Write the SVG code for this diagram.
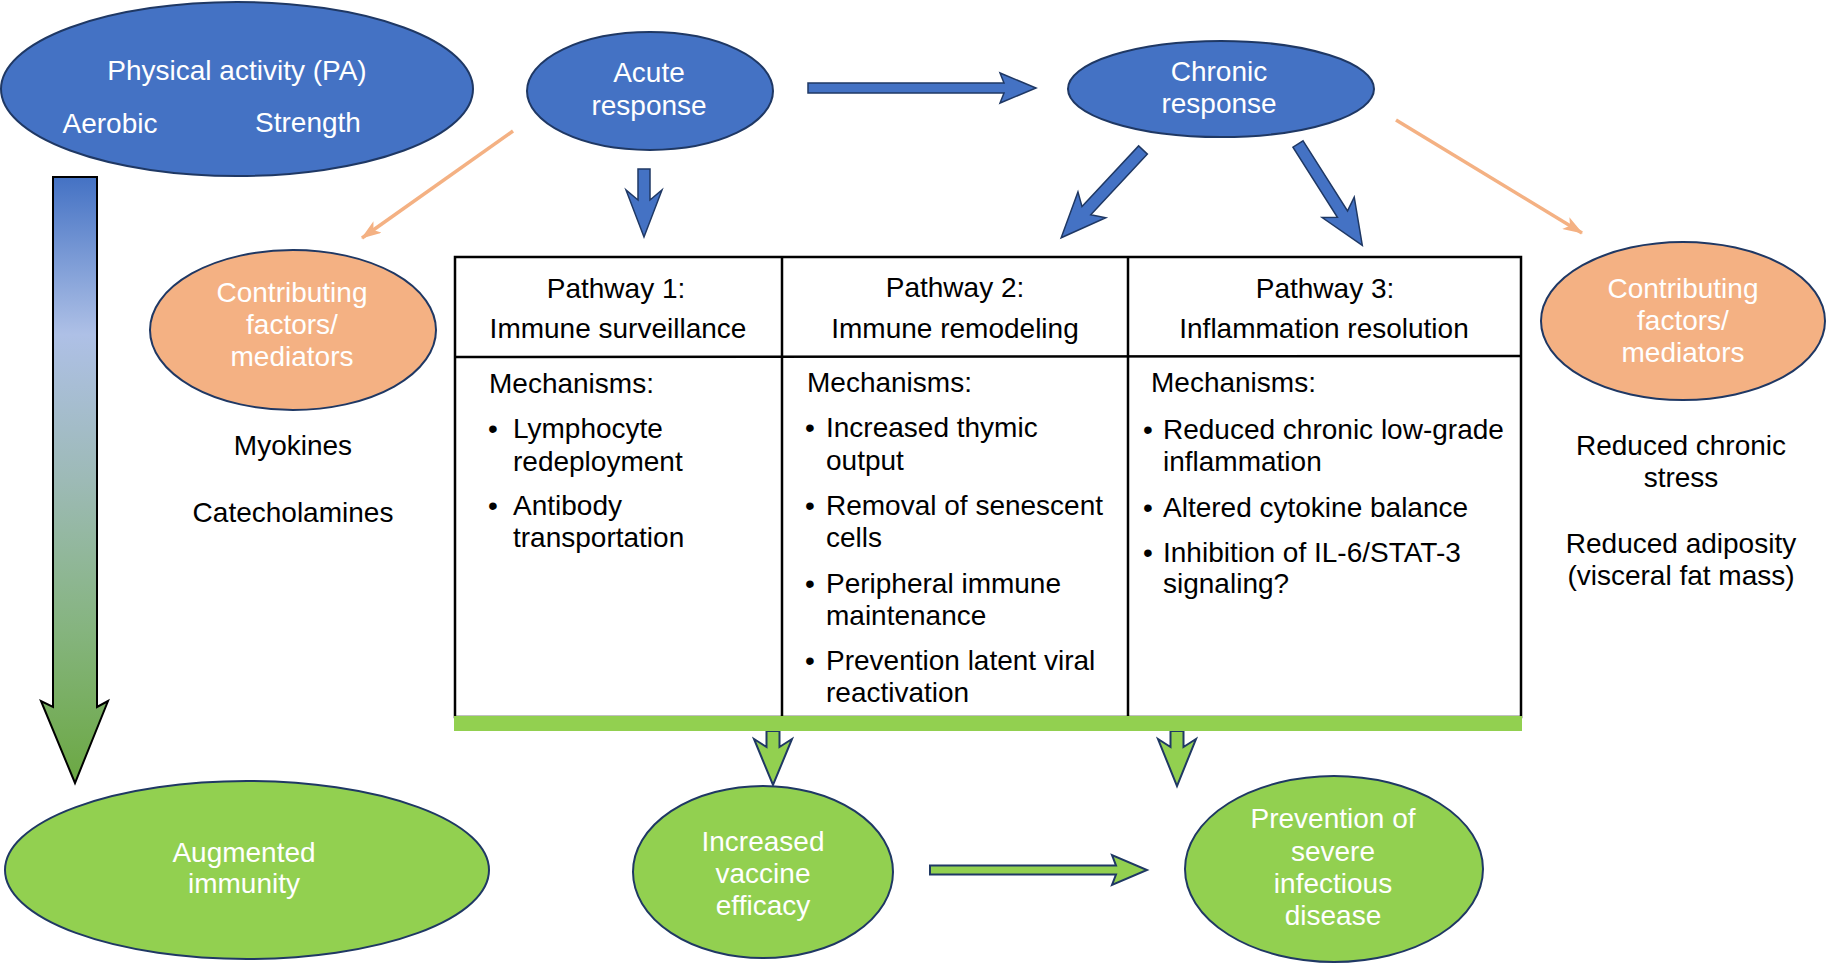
<svg xmlns="http://www.w3.org/2000/svg" width="1827" height="965" viewBox="0 0 1827 965">
<defs>
<style>
text{font-family:"Liberation Sans",Arial,sans-serif;font-size:28px;}
.w{fill:#FFFFFF;text-anchor:middle;}
.k{fill:#000000;}
.c{text-anchor:middle;}
.blue{fill:#4472C4;stroke:#1F3864;stroke-width:2;}
.orange{fill:#F4B183;stroke:#1F3864;stroke-width:2;}
.green{fill:#92D050;stroke:#1F3864;stroke-width:2;}
.barrow{fill:#4472C4;stroke:#1F3864;stroke-width:1.5;stroke-linejoin:miter;}
.garrow{fill:#92D050;stroke:#1F3864;stroke-width:2;stroke-linejoin:miter;}
.oline{stroke:#F4B183;stroke-width:3.5;fill:none;}
.grid{stroke:#000000;stroke-width:2.5;fill:none;}
</style>
<linearGradient id="paGrad" x1="0" y1="177" x2="0" y2="783" gradientUnits="userSpaceOnUse">
<stop offset="0" stop-color="#4472C4"/>
<stop offset="0.26" stop-color="#AEC0E6"/>
<stop offset="0.5" stop-color="#9DBAB6"/>
<stop offset="0.75" stop-color="#85B47E"/>
<stop offset="1" stop-color="#6BA842"/>
</linearGradient>
<marker id="oHead" markerUnits="userSpaceOnUse" viewBox="0 0 20 14" refX="19" refY="7" markerWidth="20" markerHeight="14" orient="auto">
<path d="M0,0 L20,7 L0,14 L5,7 Z" fill="#F4B183"/>
</marker>
</defs>
<rect width="1827" height="965" fill="#FFFFFF"/>

<g id="connectors">
<polygon id="pa-arrow" points="53,177 97,177 97,707 108,701 75,783 41,701 53,707" fill="url(#paGrad)" stroke="#000000" stroke-width="2"/>
<line class="oline" x1="513" y1="131" x2="362" y2="238" marker-end="url(#oHead)"/>
<line class="oline" x1="1396" y1="120" x2="1582" y2="233" marker-end="url(#oHead)"/>
<polygon class="barrow" transform="translate(644,169) rotate(90)" points="0,-6 31,-6 21,-18 68,0 21,18 31,6 0,6"/>
<polygon class="barrow" transform="translate(808,88)" points="0,-5 196,-5 192,-15 228,0 192,15 196,5 0,5"/>
<polygon class="barrow" transform="translate(1143,150) rotate(133)" points="0,-6 83,-6 75,-19 120,0 75,19 83,6 0,6"/>
<polygon class="barrow" transform="translate(1298,144) rotate(57.6)" points="0,-6 83,-6 75,-19 120,0 75,19 83,6 0,6"/>
<polygon class="garrow" transform="translate(773,731) rotate(90)" points="0,-6.5 16,-6.5 8,-19 54,0 8,19 16,6.5 0,6.5"/>
<polygon class="garrow" transform="translate(1177,731) rotate(90)" points="0,-6.5 16,-6.5 8,-19 55,0 8,19 16,6.5 0,6.5"/>
<polygon class="garrow" transform="translate(930,870)" points="0,-4.5 186,-4.5 182,-15 217,0 182,15 186,4.5 0,4.5"/>
</g>

<g id="node-pa">
<ellipse class="blue" cx="237" cy="89" rx="236" ry="87"/>
<text class="w" x="237" y="80">Physical activity (PA)</text>
<text class="w" x="110" y="133">Aerobic</text>
<text class="w" x="308" y="132">Strength</text>
</g>

<g id="node-acute">
<ellipse class="blue" cx="650" cy="91" rx="123" ry="59"/>
<text class="w" x="649" y="82">Acute</text>
<text class="w" x="649" y="115">response</text>
</g>

<g id="node-chronic">
<ellipse class="blue" cx="1221" cy="89" rx="153" ry="48"/>
<text class="w" x="1219" y="81">Chronic</text>
<text class="w" x="1219" y="113">response</text>
</g>

<g id="node-factors-left">
<ellipse class="orange" cx="293" cy="330" rx="143" ry="80"/>
<text class="w" x="292" y="302">Contributing</text>
<text class="w" x="292" y="334">factors/</text>
<text class="w" x="292" y="366">mediators</text>
<text class="k c" x="293" y="455">Myokines</text>
<text class="k c" x="293" y="522">Catecholamines</text>
</g>

<g id="node-factors-right">
<ellipse class="orange" cx="1683" cy="321" rx="142" ry="79"/>
<text class="w" x="1683" y="298">Contributing</text>
<text class="w" x="1683" y="330">factors/</text>
<text class="w" x="1683" y="362">mediators</text>
<text class="k c" x="1681" y="455">Reduced chronic</text>
<text class="k c" x="1681" y="487">stress</text>
<text class="k c" x="1681" y="553">Reduced adiposity</text>
<text class="k c" x="1681" y="585">(visceral fat mass)</text>
</g>

<g id="node-pathways">
<rect x="455" y="257" width="1066" height="460" fill="#FFFFFF" stroke="#000000" stroke-width="2.5"/>
<line class="grid" x1="782" y1="257" x2="782" y2="717"/>
<line class="grid" x1="1128" y1="257" x2="1128" y2="717"/>
<line class="grid" x1="455" y1="357" x2="1521" y2="356"/>
<rect x="454" y="716" width="1068" height="15" fill="#92D050"/>

<g id="pathway-1">
<text class="k c" x="616" y="298">Pathway 1:</text>
<text class="k c" x="618" y="338">Immune surveillance</text>
<text class="k" x="489" y="393">Mechanisms:</text>
<text class="k" x="488" y="438">•</text>
<text class="k" x="513" y="438">Lymphocyte</text>
<text class="k" x="513" y="471">redeployment</text>
<text class="k" x="488" y="515">•</text>
<text class="k" x="513" y="515">Antibody</text>
<text class="k" x="513" y="547">transportation</text>
</g>

<g id="pathway-2">
<text class="k c" x="955" y="297">Pathway 2:</text>
<text class="k c" x="955" y="338">Immune remodeling</text>
<text class="k" x="807" y="392">Mechanisms:</text>
<text class="k" x="805" y="437">•</text>
<text class="k" x="826" y="437">Increased thymic</text>
<text class="k" x="826" y="470">output</text>
<text class="k" x="805" y="515">•</text>
<text class="k" x="826" y="515">Removal of senescent</text>
<text class="k" x="826" y="547">cells</text>
<text class="k" x="805" y="593">•</text>
<text class="k" x="826" y="593">Peripheral immune</text>
<text class="k" x="826" y="625">maintenance</text>
<text class="k" x="805" y="670">•</text>
<text class="k" x="826" y="670">Prevention latent viral</text>
<text class="k" x="826" y="702">reactivation</text>
</g>

<g id="pathway-3">
<text class="k c" x="1325" y="298">Pathway 3:</text>
<text class="k c" x="1324" y="338">Inflammation resolution</text>
<text class="k" x="1151" y="392">Mechanisms:</text>
<text class="k" x="1143" y="439">•</text>
<text class="k" x="1163" y="439">Reduced chronic low-grade</text>
<text class="k" x="1163" y="471">inflammation</text>
<text class="k" x="1143" y="517">•</text>
<text class="k" x="1163" y="517">Altered cytokine balance</text>
<text class="k" x="1143" y="562">•</text>
<text class="k" x="1163" y="562">Inhibition of IL-6/STAT-3</text>
<text class="k" x="1163" y="593">signaling?</text>
</g>
</g>

<g id="node-augmented">
<ellipse class="green" cx="247" cy="870" rx="242" ry="89" stroke="#2F5597"/>
<text class="w" x="244" y="862">Augmented</text>
<text class="w" x="244" y="893">immunity</text>
</g>

<g id="node-vaccine">
<ellipse class="green" cx="763" cy="872" rx="130" ry="86"/>
<text class="w" x="763" y="851">Increased</text>
<text class="w" x="763" y="883">vaccine</text>
<text class="w" x="763" y="915">efficacy</text>
</g>

<g id="node-prevention">
<ellipse class="green" cx="1334" cy="869" rx="149" ry="93"/>
<text class="w" x="1333" y="828">Prevention of</text>
<text class="w" x="1333" y="861">severe</text>
<text class="w" x="1333" y="893">infectious</text>
<text class="w" x="1333" y="925">disease</text>
</g>
</svg>
